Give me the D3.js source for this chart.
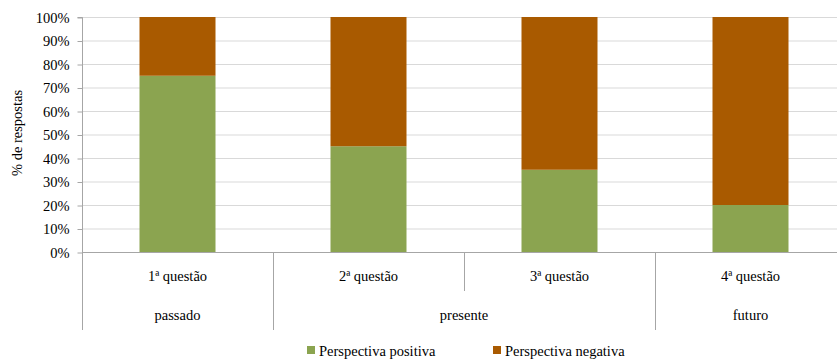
<!DOCTYPE html>
<html><head><meta charset="utf-8">
<script src="https://cdn.jsdelivr.net/npm/d3@7"></script>
<style>body{margin:0;background:#fff}svg{display:block}svg text{font-family:"Liberation Serif","Times New Roman",Times,"DejaVu Serif",serif !important;fill:#000}</style>
</head><body>
<svg id="c" width="837" height="361"></svg>
<script>
const categories = ["1ª questão","2ª questão","3ª questão","4ª questão"];
const groups = [
  {name:"passado", start:0, end:1},
  {name:"presente", start:1, end:3},
  {name:"futuro", start:3, end:4}
];
const positiva = [75,45,35,20];
const negativa = [25,55,65,80];
const seriesNames = ["Perspectiva positiva","Perspectiva negativa"];
const colors = ["#8ba450","#a95a00"];
const yTicks = [0,10,20,30,40,50,60,70,80,90,100];

(function(){
const FONT = "Liberation Serif, Times New Roman, serif";
const FS = 14.5;
const svg = d3.select("#c");
const mLeft = 82, mTop = 17, mBottom = 252, mRight = 846;
const xb = d3.scaleLinear().domain([0,categories.length]).range([mLeft,mRight]);
const y = d3.scaleLinear().domain([0,100]).range([mBottom,mTop]);

svg.append("g").selectAll("line").data(yTicks.filter(d=>d>0)).join("line")
  .attr("x1",mLeft).attr("x2",837).attr("y1",d=>y(d)+0.5).attr("y2",d=>y(d)+0.5)
  .attr("stroke","#d9d9d9").attr("stroke-width",1);

const data = categories.map((c,i)=>({i, pos:positiva[i], neg:negativa[i]}));
const bw = 76;
const cx = i => xb(i+0.5);
svg.append("g").selectAll("rect").data(data).join("rect")
  .attr("x",d=>cx(d.i)-bw/2).attr("width",bw)
  .attr("y",d=>y(d.pos)).attr("height",d=>y(0)-y(d.pos)).attr("fill",colors[0]);
svg.append("g").selectAll("rect").data(data).join("rect")
  .attr("x",d=>cx(d.i)-bw/2).attr("width",bw)
  .attr("y",d=>y(d.pos+d.neg)).attr("height",d=>y(d.pos)-y(d.pos+d.neg)).attr("fill",colors[1]);

const ya = d3.axisLeft(y).tickValues(yTicks).tickFormat(d=>d+"%").tickSize(5).tickPadding(8);
const gy = svg.append("g").attr("transform",`translate(${mLeft+0.5},0.5)`).call(ya)
  .attr("font-family",FONT).attr("font-size",FS);
gy.select(".domain").attr("stroke","#a6a6a6").attr("d",`M-5,${y(100)}H0V${y(0)}`);
gy.selectAll(".tick line").attr("stroke","#a6a6a6");
gy.selectAll(".tick text").attr("fill","#000");

svg.append("line").attr("x1",mLeft).attr("x2",837).attr("y1",mBottom+0.5).attr("y2",mBottom+0.5).attr("stroke","#a6a6a6");
svg.append("line").attr("x1",mLeft+0.5).attr("x2",mLeft+0.5).attr("y1",mBottom).attr("y2",330).attr("stroke","#a6a6a6");
const groupBounds = groups.map(g=>g.end);
for (let k=1;k<categories.length;k++){
  const full = groupBounds.includes(k);
  svg.append("line").attr("x1",Math.round(xb(k))+0.5).attr("x2",Math.round(xb(k))+0.5)
    .attr("y1",mBottom).attr("y2",full?330:291).attr("stroke","#a6a6a6");
}
svg.append("g").selectAll("text").data(categories).join("text")
  .attr("x",(d,i)=>cx(i)).attr("y",281).attr("text-anchor","middle").attr("font-size",FS)
  .attr("font-family",FONT).text(d=>d);
svg.append("g").selectAll("text").data(groups).join("text")
  .attr("x",d=>(xb(d.start)+xb(d.end))/2).attr("y",320).attr("text-anchor","middle").attr("font-size",FS)
  .attr("font-family",FONT).text(d=>d.name);

svg.append("text").attr("transform","translate(22,133) rotate(-90)").attr("text-anchor","middle")
  .attr("font-size",FS).attr("font-family",FONT).text("% de respostas");

const legX = [307,493];
seriesNames.forEach((n,i)=>{
  svg.append("rect").attr("x",legX[i]).attr("y",346).attr("width",8).attr("height",8).attr("fill",colors[i]);
  svg.append("text").attr("x",legX[i]+12).attr("y",356).attr("font-size",FS).attr("font-family",FONT).text(n);
});
})();
</script>
</body></html>
